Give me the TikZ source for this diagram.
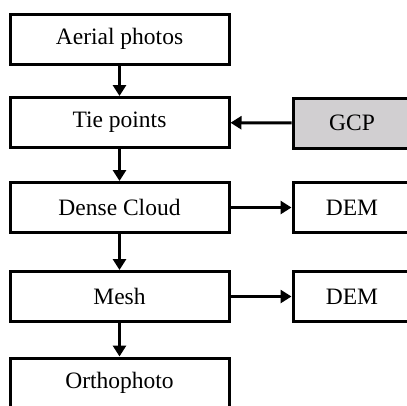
\documentclass[tikz,border=0pt]{standalone}
\usepackage{fontspec}
\setmainfont{Liberation Serif}
\usepackage{tikz}
\usetikzlibrary{arrows.meta}

\definecolor{gcpgray}{RGB}{209,207,209}

\begin{document}
\begin{tikzpicture}[
    x=1pt, y=1pt,
    stage/.style={draw, line width=3pt, minimum width=219pt, minimum height=50pt, inner sep=0pt, font=\fontsize{23.5}{27}\selectfont},
    product/.style={stage, minimum width=118pt},
    flow/.style={line width=3pt, -{Triangle[length=11pt, width=13pt]}}
]
% Frame of the picture
\useasboundingbox (0,0) rectangle (407,-405);
\clip (0,0) rectangle (407,-405);
% Main processing chain
\node[stage] (photos) at (119.5,-39) {Aerial photos};
\node[stage] (tie) at (119.5,-122.5) {Tie points};
\node[stage] (cloud) at (119.5,-207.5) {Dense Cloud};
\node[stage] (mesh) at (119.5,-296.5) {Mesh};
\node[stage] (ortho) at (119.5,-383) {Orthophoto};
% Side boxes
\node[product, fill=gcpgray] (gcp) at (352,-123) {GCP};
\node[product] (dem1) at (352,-207.5) {DEM};
\node[product] (dem2) at (352,-296.5) {DEM};
% Arrows down the chain
\draw[flow] (photos) -- (tie);
\draw[flow] (tie) -- (cloud);
\draw[flow] (cloud) -- (mesh);
\draw[flow] (mesh) -- (ortho);
% Arrows to and from the side
\draw[flow] (gcp) -- (tie);
\draw[flow] (cloud) -- (dem1);
\draw[flow] (mesh) -- (dem2);
\end{tikzpicture}
\end{document}
